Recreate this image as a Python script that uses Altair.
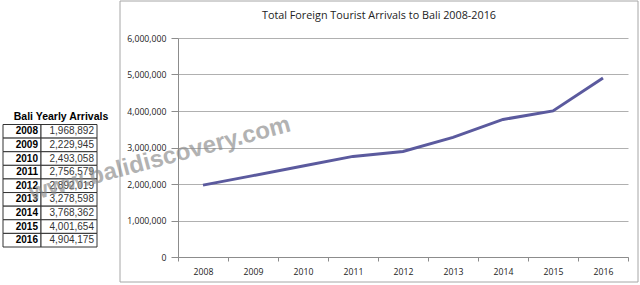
import altair as alt
import pandas as pd

years = ["2008", "2009", "2010", "2011", "2012", "2013", "2014", "2015", "2016"]
arrivals = [1968892, 2229945, 2493058, 2756579, 2892019, 3278598, 3768362, 4001654, 4904175]
y_ticks = [0, 1000000, 2000000, 3000000, 4000000, 5000000, 6000000]
chart_title = "Total Foreign Tourist Arrivals to Bali 2008-2016"
table_title = "Bali Yearly Arrivals"
watermark = "www.balidiscovery.com"

df = pd.DataFrame({"year": years, "arrivals": arrivals})
one = pd.DataFrame({"k": [0]})

FONT = "Open Sans"
TFONT = "Liberation Sans"

# outer frame around the chart
frame = alt.Chart(one).mark_rect(filled=False, stroke="#a6a6a6", strokeWidth=1).encode(
    x=alt.value(-58), x2=alt.value(460), y=alt.value(-37), y2=alt.value(244)
)

title = alt.Chart(one).mark_text(
    text=chart_title, font=FONT, fontSize=10.8, color="#222", align="center", baseline="middle"
).encode(x=alt.value(201), y=alt.value(-22))

line = alt.Chart(df).mark_line(color="#5B5A9E", strokeWidth=3).encode(
    x=alt.X(
        "year:O",
        scale=alt.Scale(type="band", paddingInner=0, paddingOuter=0),
        bandPosition=0.5,
        axis=alt.Axis(
            title=None, labelAngle=0, tickBand="extent", tickSize=4, labelPadding=6,
            domainColor="#8c8c8c", tickColor="#8c8c8c", labelFont=FONT, labelFontSize=8.7,
            labelColor="#222", grid=False,
        ),
    ),
    y=alt.Y(
        "arrivals:Q",
        scale=alt.Scale(domain=[0, 6000000], nice=False),
        axis=alt.Axis(
            title=None, values=y_ticks, format=",d", tickSize=7, labelPadding=5,
            domainColor="#8c8c8c", tickColor="#8c8c8c", gridColor="#b0b0b0",
            labelFont=FONT, labelFontSize=8.7, labelColor="#222", grid=True,
        ),
    ),
)

ty = alt.Y(
    "year:O",
    sort=years,
    scale=alt.Scale(type="band", range=[86.5, 209], paddingInner=0, paddingOuter=0),
    axis=None,
)

year_cells = alt.Chart(df).mark_rect(fill="white", stroke="#333", strokeWidth=1).encode(
    x=alt.value(-175), x2=alt.value(-137), y=ty
)
value_cells = alt.Chart(df).mark_rect(fill="white", stroke="#333", strokeWidth=1).encode(
    x=alt.value(-137), x2=alt.value(-81), y=ty
)
year_text = alt.Chart(df).mark_text(
    font=TFONT, fontSize=10, fontWeight="bold", align="right", baseline="middle", color="#000"
).encode(x=alt.value(-140), y=ty, text="year:N")
value_text = alt.Chart(df).mark_text(
    font=TFONT, fontSize=10, align="right", baseline="middle", color="#333"
).encode(x=alt.value(-84), y=ty, text=alt.Text("arrivals:Q", format=",d"))
table_head = alt.Chart(one).mark_text(
    text=table_title, font=TFONT, fontSize=10.5, fontWeight="bold", align="center",
    baseline="middle", color="#000"
).encode(x=alt.value(-117), y=alt.value(79))

table = alt.layer(year_cells, value_cells, year_text, value_text, table_head)

mark = alt.Chart(one).mark_text(
    text=watermark, font=TFONT, fontSize=24, fontWeight="bold", angle=345,
    color="#8a8a8a", opacity=0.65, align="center", baseline="middle"
).encode(x=alt.value(-18), y=alt.value(121))

chart = alt.layer(frame, title, line, table, mark).resolve_scale(y="independent").properties(
    width=450,
    height=219,
    padding={"left": 178, "top": 38, "right": 12, "bottom": 28},
    autosize=alt.AutoSizeParams(type="none"),
    background="white",
).configure_view(strokeWidth=0)

chart.save("out.html", embed_options={"renderer": "svg", "actions": False})
